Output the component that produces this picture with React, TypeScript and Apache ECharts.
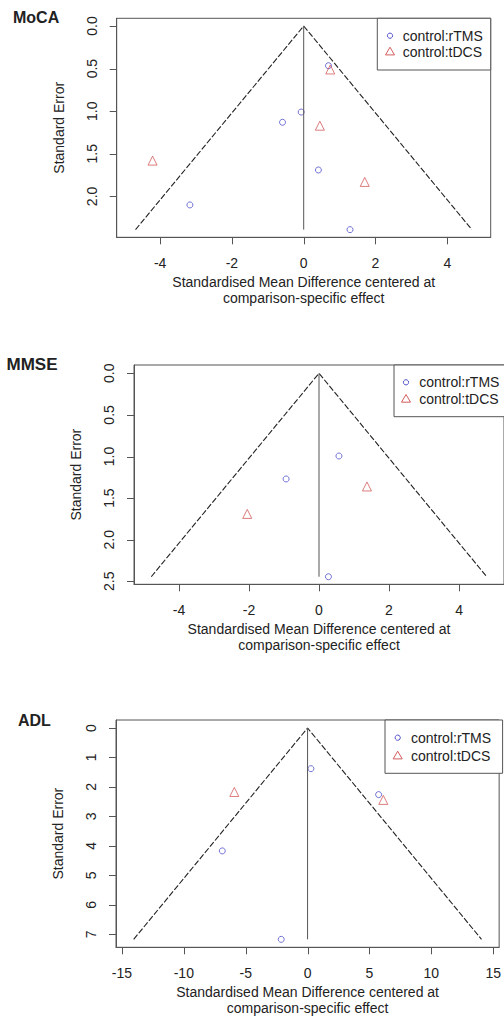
import React, { useEffect, useRef } from "react";
import * as echarts from "echarts";

// ---- data (x = standardised mean difference, y = standard error) ----
const mocaRtms = [[0.69, 0.466], [-0.07, 1.01], [-0.59, 1.13], [0.41, 1.69], [-3.17, 2.1], [1.29, 2.39]];
const mocaTdcs = [[0.74, 0.51], [0.45, 1.17], [-4.21, 1.58], [1.7, 1.83]];
const mmseRtms = [[0.57, 0.994], [-0.94, 1.27], [0.27, 2.445]];
const mmseTdcs = [[1.37, 1.36], [-2.05, 1.69]];
const adlRtms = [[0.27, 1.38], [5.74, 2.26], [-6.89, 4.17], [-2.13, 7.17]];
const adlTdcs = [[-5.92, 2.17], [6.12, 2.44]];

const mocaMaxSE = 2.39;
const mmseMaxSE = 2.445;
const adlMaxSE = 7.17;

const mocaXTicks = [-4, -2, 0, 2, 4];
const mocaYTicks = [0, 0.5, 1, 1.5, 2];
const mmseXTicks = [-4, -2, 0, 2, 4];
const mmseYTicks = [0, 0.5, 1, 1.5, 2, 2.5];
const adlXTicks = [-15, -10, -5, 0, 5, 10, 15];
const adlYTicks = [0, 1, 2, 3, 4, 5, 6, 7];

const panelNames = ["MoCA", "MMSE", "ADL"];
const seriesNames = ["control:rTMS", "control:tDCS"];
const xTitle = "Standardised Mean Difference centered at\ncomparison-specific effect";
const yTitle = "Standard Error";

const FONT = "Liberation Sans, Arial, sans-serif";
const BLUE = "#5050cc";
const RED = "#d45c5c";
const FRAME = "#555";
const TICK_LEN = 7;

type Panel = {
  name: string;
  rtms: number[][];
  tdcs: number[][];
  maxSE: number;
  xTicks: number[];
  yTicks: number[];
  yDec: number;
  grid: { left: number; top: number; width: number; height: number };
  xRange: [number, number];
  yRange: [number, number];
  label: { x: number; y: number; size: number };
  legend: { x: number; y: number; w: number; h: number; sx: number; tx: number; r1: number; r2: number };
};

const panels: Panel[] = [
  {
    name: panelNames[0], rtms: mocaRtms, tdcs: mocaTdcs, maxSE: mocaMaxSE,
    xTicks: mocaXTicks, yTicks: mocaYTicks, yDec: 1,
    grid: { left: 116.7, top: 18.3, width: 374, height: 219 },
    xRange: [-5.209, 5.209], yRange: [-0.0904, 2.48],
    label: { x: 13, y: 19, size: 16 },
    legend: { x: 377.3, y: 18.3, w: 113.4, h: 51.7, sx: 390, tx: 402.7, r1: 35.7, r2: 51.7 },
  },
  {
    name: panelNames[1], rtms: mmseRtms, tdcs: mmseTdcs, maxSE: mmseMaxSE,
    xTicks: mmseXTicks, yTicks: mmseYTicks, yDec: 1,
    grid: { left: 134, top: 365, width: 372.6, height: 219.3 },
    xRange: [-5.285, 5.285], yRange: [-0.0998, 2.536],
    label: { x: 6.5, y: 366.5, size: 17 },
    legend: { x: 394, y: 365, w: 112.6, h: 51.7, sx: 406, tx: 419.3, r1: 382.3, r2: 399 },
  },
  {
    name: panelNames[2], rtms: adlRtms, tdcs: adlTdcs, maxSE: adlMaxSE,
    xTicks: adlXTicks, yTicks: adlYTicks, yDec: 0,
    grid: { left: 116, top: 720, width: 386.6, height: 227.3 },
    xRange: [-15.48, 15.48], yRange: [-0.271, 7.44],
    label: { x: 18, y: 722, size: 16 },
    legend: { x: 385, y: 720, w: 117.6, h: 53.3, sx: 397.7, tx: 411, r1: 737.7, r2: 755.7 },
  },
];

function buildOption() {
  const grids: any[] = [];
  const xAxes: any[] = [];
  const yAxes: any[] = [];
  const series: any[] = [];

  panels.forEach((p, i) => {
    grids.push({
      left: p.grid.left, top: p.grid.top, width: p.grid.width, height: p.grid.height,
      show: true, borderColor: FRAME,
    });
    xAxes.push({
      type: "value", gridIndex: i, min: p.xRange[0], max: p.xRange[1],
      axisLine: { show: true, onZero: false, lineStyle: { color: FRAME } },
      axisTick: { show: false },
      axisLabel: {
        customValues: p.xTicks, margin: 19, fontSize: 14, color: "#222", fontFamily: FONT,
        formatter: (v: number) => String(v),
      },
      splitLine: { show: false },
      name: xTitle, nameLocation: "middle", nameGap: 36,
      nameTextStyle: { fontSize: 14, color: "#222", fontFamily: FONT, lineHeight: 16.5 },
    });
    yAxes.push({
      type: "value", gridIndex: i, min: p.yRange[0], max: p.yRange[1], inverse: true,
      axisLine: { show: true, onZero: false, lineStyle: { color: FRAME } },
      axisTick: { show: false },
      axisLabel: {
        customValues: p.yTicks, rotate: 90, margin: 18, fontSize: 14, color: "#222", fontFamily: FONT,
        formatter: (v: number) => v.toFixed(p.yDec),
      },
      splitLine: { show: false },
      name: yTitle, nameLocation: "middle", nameGap: 51, nameRotate: 90,
      nameTextStyle: { fontSize: 14, color: "#222", fontFamily: FONT },
    });

    const half = 1.96 * p.maxSE;
    series.push({
      type: "line", xAxisIndex: i, yAxisIndex: i, silent: true, symbol: "none",
      data: [[-half, p.maxSE], [0, 0], [half, p.maxSE]],
      lineStyle: { color: "#222", width: 1.1, type: [6, 2] },
    });
    series.push({
      type: "line", xAxisIndex: i, yAxisIndex: i, silent: true, symbol: "none",
      data: [[0, 0], [0, p.maxSE]],
      lineStyle: { color: "#555", width: 1 },
    });
    series.push({
      name: seriesNames[0], type: "scatter", xAxisIndex: i, yAxisIndex: i,
      data: p.rtms, symbol: "circle", symbolSize: 6,
      itemStyle: { color: "rgba(255,255,255,0)", borderColor: BLUE, borderWidth: 1 },
    });
    series.push({
      name: seriesNames[1], type: "scatter", xAxisIndex: i, yAxisIndex: i,
      data: p.tdcs, symbol: "triangle", symbolSize: 9,
      itemStyle: { color: "rgba(255,255,255,0)", borderColor: RED, borderWidth: 1 },
    });
  });

  return {
    animation: false,
    grid: grids,
    xAxis: xAxes,
    yAxis: yAxes,
    series,
  };
}

function buildGraphics(chart: any) {
  const graphics: any[] = [];
  panels.forEach((p, i) => {
    // tick marks positioned through the chart's own scales
    const corner = chart.convertToPixel({ gridIndex: i }, [p.xRange[0], p.yRange[1]]);
    const left = corner[0];
    const bottom = corner[1];
    p.xTicks.forEach((v) => {
      const pt = chart.convertToPixel({ gridIndex: i }, [v, p.yRange[1]]);
      const x = Math.round(pt[0]) + 0.5;
      graphics.push({
        type: "line", silent: true,
        shape: { x1: x, y1: bottom, x2: x, y2: bottom + TICK_LEN },
        style: { stroke: FRAME, lineWidth: 1 },
      });
    });
    p.yTicks.forEach((v) => {
      const pt = chart.convertToPixel({ gridIndex: i }, [p.xRange[0], v]);
      const y = Math.round(pt[1]) + 0.5;
      graphics.push({
        type: "line", silent: true,
        shape: { x1: left - TICK_LEN, y1: y, x2: left, y2: y },
        style: { stroke: FRAME, lineWidth: 1 },
      });
    });

    graphics.push({
      type: "text", left: p.label.x, top: p.label.y - p.label.size * 0.6,
      style: { text: p.name, fontSize: p.label.size, fontWeight: "bold", fill: "#222", fontFamily: FONT },
    });
    const L = p.legend;
    graphics.push({
      type: "rect", shape: { x: L.x, y: L.y, width: L.w, height: L.h }, z: 10,
      style: { fill: "#fff", stroke: FRAME, lineWidth: 1 },
    });
    graphics.push({
      type: "circle", shape: { cx: L.sx, cy: L.r1, r: 2.6 }, z: 11,
      style: { fill: "none", stroke: BLUE, lineWidth: 1 },
    });
    graphics.push({
      type: "polygon", shape: { points: [[L.sx, L.r2 - 4.5], [L.sx - 4.5, L.r2 + 3.2], [L.sx + 4.5, L.r2 + 3.2]] }, z: 11,
      style: { fill: "none", stroke: RED, lineWidth: 1 },
    });
    graphics.push({
      type: "text", x: L.tx, y: L.r1, z: 11,
      style: { text: seriesNames[0], fontSize: 14, fill: "#222", fontFamily: FONT, verticalAlign: "middle" },
    });
    graphics.push({
      type: "text", x: L.tx, y: L.r2, z: 11,
      style: { text: seriesNames[1], fontSize: 14, fill: "#222", fontFamily: FONT, verticalAlign: "middle" },
    });
  });
  return graphics;
}

export default function App() {
  const ref = useRef<HTMLDivElement>(null);
  useEffect(() => {
    document.body.style.margin = "0";
    if (!ref.current) return;
    const chart = echarts.init(ref.current, null, { renderer: "svg" });
    chart.setOption(buildOption() as any);
    chart.setOption({ graphic: buildGraphics(chart) } as any);
    return () => chart.dispose();
  }, []);
  return <div ref={ref} style={{ width: 504, height: 1019 }} />;
}
